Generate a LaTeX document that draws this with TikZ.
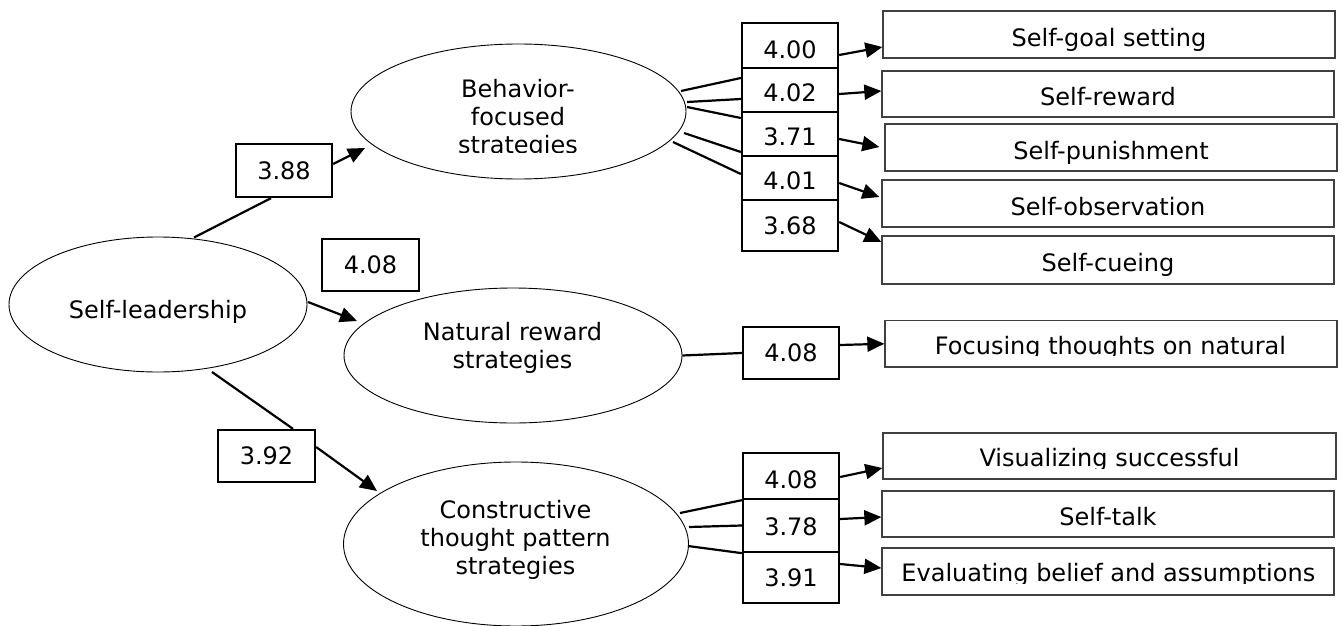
\documentclass[tikz,border=0pt]{standalone}
\usepackage{fontspec}
\setmainfont{DejaVu Sans}
\usetikzlibrary{arrows.meta,calc,shapes.geometric}
\begin{document}
\begin{tikzpicture}[x=1pt,y=-1pt,
  every node/.style={font=\fontsize{24}{28}\selectfont},
  oval/.style={draw, ellipse, line width=0.9pt, inner sep=0pt},
  val/.style={draw, line width=2.3pt, inner sep=0pt, text height=17.5pt, text depth=0pt},
  item/.style={draw=black!75, line width=1.3pt, inner sep=0pt, minimum width=452pt},
  lbl/.style={inner sep=0pt, align=center},
  conn/.style={line width=2.2pt},
  arr/.style={line width=2.2pt, -{Triangle[length=17pt,width=15pt]}},
]
\useasboundingbox (0,0) rectangle (1343,626);

% latent variables
\node[oval, minimum width=298pt, minimum height=135pt] (sl) at (158,304.5) {};
\node[lbl] (slt) at (158,311.4) {Self-leadership};
\node[oval, minimum width=335pt, minimum height=135pt] (bfs) at (518.5,111.5) {};
\begin{scope}
  \clip (400,60) rectangle (640,152.5);
  \node[lbl] (bfst) at (518,119) {Behavior-\\focused\\strategies};
\end{scope}
\node[oval, minimum width=338pt, minimum height=135pt] (nrs) at (513,355.5) {};
\node[lbl] (nrst) at (512.5,347.75) {Natural reward\\strategies};
\node[oval, minimum width=345pt, minimum height=164pt] (cts) at (516,544) {};
\node[lbl] (ctst) at (515.5,539.75) {Constructive\\thought pattern\\strategies};

% path values
\node[val, minimum width=96pt, minimum height=53pt] (p1) at (284,170.5) {3.88};
\node[val, minimum width=97pt, minimum height=52pt] (p2) at (370.5,265) {4.08};
\node[val, minimum width=97pt, minimum height=52pt] (p3) at (266.5,456) {3.92};

% behavior stack
\node[val, minimum width=96pt, minimum height=45pt, text height=25.5pt] (b1) at (790,45.5) {4.00};
\node[val, minimum width=96pt, minimum height=44pt, text height=23pt] (b2) at (790,90) {4.02};
\node[val, minimum width=96pt, minimum height=44pt, text height=23.5pt] (b3) at (790,134) {3.71};
\node[val, minimum width=96pt, minimum height=44pt, text height=23.5pt] (b4) at (790,178) {4.01};
\node[val, minimum width=96pt, minimum height=51pt] (b5) at (790,225.5) {3.68};

% natural stack
\node[val, minimum width=96pt, minimum height=52pt] (n1) at (791,353) {4.08};

% constructive stack
\node[val, minimum width=96pt, minimum height=46pt, text height=25.5pt] (c1) at (791,476) {4.08};
\node[val, minimum width=96pt, minimum height=53pt, text height=20pt] (c2) at (791,525.5) {3.78};
\node[val, minimum width=96pt, minimum height=51pt] (c3) at (791,577.5) {3.91};

% item boxes
\node[item, minimum height=47pt, text height=23.4pt, text depth=0pt] (t1) at (1109,34.5) {Self-goal setting};
\node[item, minimum height=46pt, text height=23.4pt, text depth=0pt] (t2) at (1108,94) {Self-reward};
\node[item, minimum height=47pt, text height=23.4pt, text depth=0pt] (t3) at (1111,147.5) {Self-punishment};
\node[item, minimum height=47pt, text height=23.4pt, text depth=0pt] (t4) at (1108,203.5) {Self-observation};
\node[item, minimum height=48pt, text height=23.4pt, text depth=0pt] (t5) at (1108,260) {Self-cueing};
\node[item, minimum height=46.5pt] (fb) at (1111,343.75) {};
\begin{scope}
  \clip (885,320) rectangle (1337,355);
  \node[lbl, anchor=base] (fbt) at (1110.5,354) {Focusing thoughts on natural};
\end{scope}
\node[item, minimum height=46pt, minimum width=453pt] (vb) at (1109.5,456) {};
\begin{scope}
  \clip (883,433) rectangle (1336,468.3);
  \node[lbl, anchor=base] (vbt) at (1109.5,466.7) {Visualizing successful};
\end{scope}
\node[item, minimum height=46pt, text height=22pt, text depth=0pt] (st) at (1108,514) {Self-talk};
\node[item, minimum height=47pt] (eb) at (1108,571.5) {};
\begin{scope}
  \clip (882,548) rectangle (1334,583);
  \node[lbl, anchor=base] (ebt) at (1108.3,581.7) {Evaluating belief and assumptions};
\end{scope}

% structural paths
\draw[conn] ($(sl)+(36,-67)$) -- ($(p1.south)+(-13,0)$);
\draw[arr] ($(p1.east)+(0,-6.5)$) -- ($(bfs)+(-153.5,36.5)$);
\draw[arr] ($(sl)+(150,-2.5)$) -- ($(nrs)+(-156,-34.5)$);
\draw[conn] ($(sl)+(54,67.5)$) -- ($(p3.north)+(26.5,0)$);
\draw[arr] ($(p3.east)+(0,-9)$) -- ($(cts)+(-139,-53)$);

% behavior
\draw[conn] ($(bfs)+(162.5,-20.5)$) -- ($(b2.west)+(0,-12)$);
\draw[conn] ($(bfs)+(168.5,-9.5)$) -- ($(b2.west)+(0,9)$);
\draw[conn] ($(bfs)+(168.5,-4.5)$) -- ($(b3.west)+(0,-16)$);
\draw[conn] ($(bfs)+(165.5,21.5)$) -- ($(b3.west)+(0,18)$);
\draw[conn] ($(bfs)+(154.5,30.5)$) -- ($(b4.west)+(0,-4)$);
\draw[arr] ($(b1.east)+(0,9.5)$) -- ($(t1.west)+(0,12.5)$);
\draw[arr] ($(b2.east)+(0,4)$) -- ($(t2.west)+(0,-3)$);
\draw[arr] ($(b3.east)+(0,5)$) -- ($(t3.west)+(-5,-0.5)$);
\draw[arr] ($(b4.east)+(0,5)$) -- ($(t4.west)+(-2,-6.5)$);
\draw[arr] ($(b5.east)+(0,-3.5)$) -- ($(t5.west)+(0,-18)$);

% natural
\draw[conn] (nrs.east) -- (n1.west);
\draw[arr] ($(n1.east)+(0,-8)$) -- (fb.west);

% constructive
\draw[conn] ($(cts)+(164,-31)$) -- (c1.south west);
\draw[conn] ($(cts)+(173,-17)$) -- (c2.west);
\draw[conn] ($(cts)+(172,2)$) -- (c2.south west);
\draw[arr] ($(c1.east)+(0,1)$) -- ($(vb.west)+(0,12)$);
\draw[arr] ($(c2.east)+(0,-6.5)$) -- ($(st.west)+(0,3)$);
\draw[arr] ($(c3.east)+(0,-13.5)$) -- ($(eb.west)+(0,-3.5)$);
\end{tikzpicture}
\end{document}
